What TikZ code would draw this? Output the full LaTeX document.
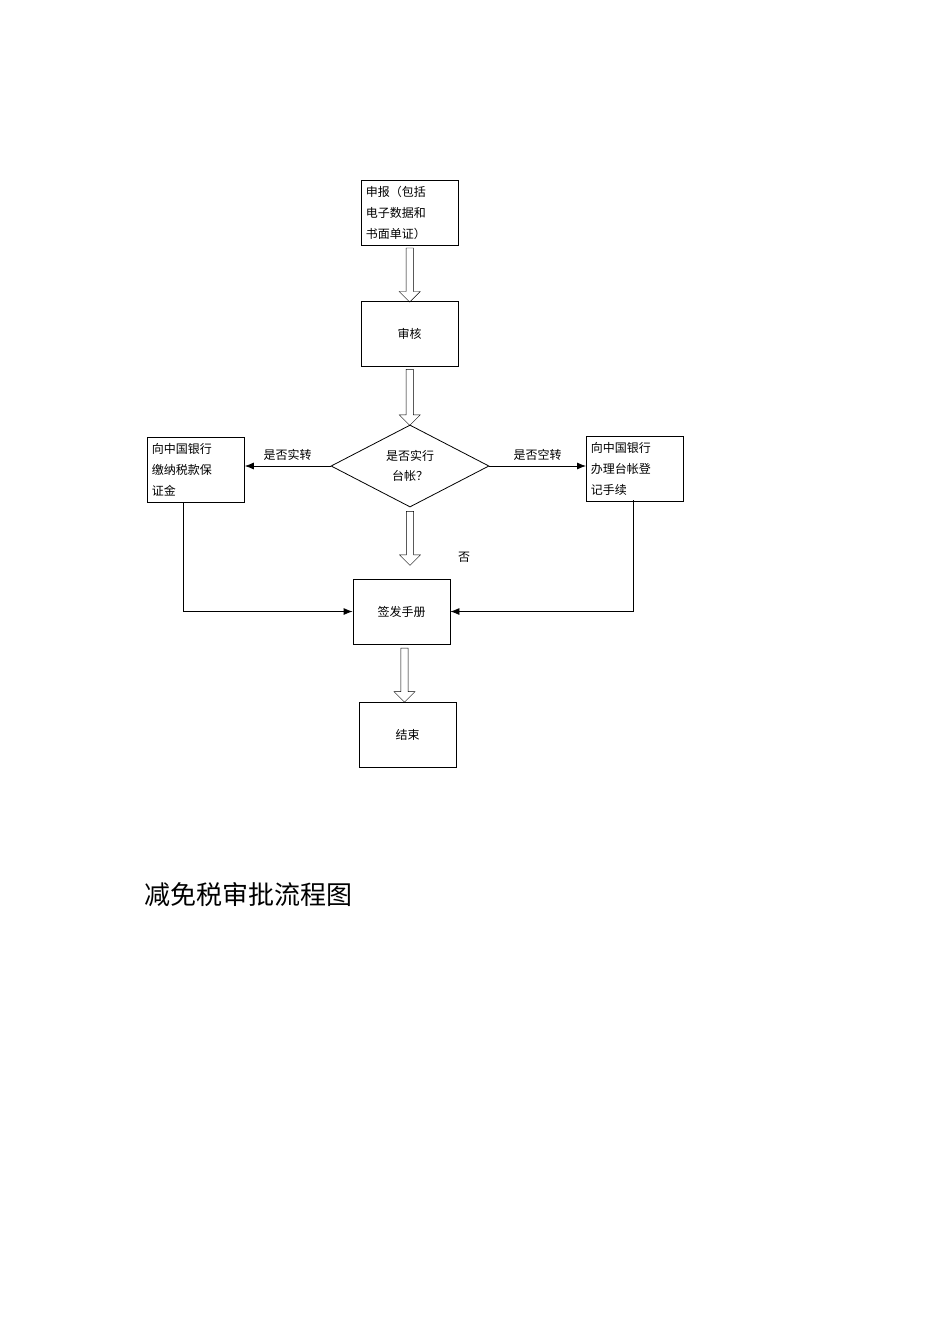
\documentclass[tikz,border=0pt]{standalone}
\usepackage{fontspec}
\setmainfont{Noto Sans CJK SC}
\usetikzlibrary{shapes.geometric,shapes.arrows,calc,arrows.meta}
\begin{document}
\begin{tikzpicture}[x=1pt,y=-1pt,
  box/.style={draw,thick,minimum width=97pt,minimum height=65pt,font=\fontsize{12}{21}\selectfont},
  tbox/.style={box,align=left,text width=88pt,inner sep=4pt},
  hollow/.style={draw,single arrow,shape border rotate=270,minimum width=21pt,single arrow head extend=6pt,single arrow head indent=0pt,inner sep=3pt},
  lbl/.style={font=\fontsize{12}{14}\selectfont},
  conn/.style={draw,thick,-{Latex[length=9pt,width=7pt]}}]
\useasboundingbox (0,0) rectangle (950,1344);
\node[tbox,anchor=north west,minimum width=97pt,minimum height=65pt] (b1) at (361,180) {申报（包括\\电子数据和\\书面单证）};
\node[box] (b2) at (409.5,333.5) {审核};
\node[draw,thick,diamond,aspect=1.95,minimum width=158pt,minimum height=82pt,align=center,font=\fontsize{12}{20}\selectfont,inner sep=0pt] (d) at (410,466) {是否实行\\台帐？};
\node[tbox,anchor=north west] (l) at (147,437) {向中国银行\\缴纳税款保\\证金};
\node[tbox,anchor=north west] (r) at (586,436) {向中国银行\\办理台帐登\\记手续};
\node[box] (s) at (401.5,611.5) {签发手册};
\node[box] (e) at (407.5,735) {结束};
\path (b1.south) -- (b2.north) node[midway,hollow,minimum height=54pt] {};
\path (b2.south) -- (d.north) node[midway,hollow,minimum height=56pt] {};
\path (410,509) -- (410,564) node[midway,hollow,minimum height=54pt] {};
\path (s.south) -- (e.north) node[midway,hollow,minimum height=54pt] {};
\draw[conn] (d.west) -- node[above,lbl,yshift=2pt] {是否实转} (l.east |- d.west);
\draw[conn] (d.east) -- node[above,lbl,yshift=2pt] {是否空转} (r.west |- d.east);
\draw[conn] (183,502) |- (s.west);
\draw[conn] (633,500) |- (s.east);
\node[lbl] (no) at (464,557) {否};
\node[font=\fontsize{26}{30}\selectfont,anchor=west] (t) at (141,895) {减免税审批流程图};
\end{tikzpicture}
\end{document}
